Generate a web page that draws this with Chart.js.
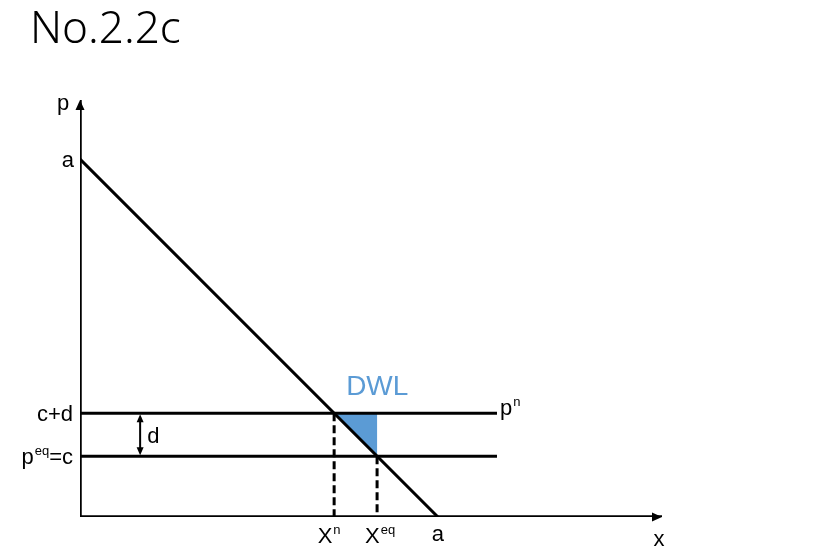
<!DOCTYPE html>
<html>
<head>
<meta charset="utf-8">
<title>No.2.2c</title>
<script src="https://cdn.jsdelivr.net/npm/chart.js"></script>
<style>
  html, body { margin: 0; padding: 0; background: #fff; }
  canvas { display: block; }
</style>
</head>
<body>
<canvas id="chart" width="817" height="555"></canvas>
<script>
// model values (abstract units, a = 100)
const A = 100;          // demand intercept on both axes
const C = 17;           // p_eq = c
const D = 12;           // markup d
const X_N = A - (C + D); // quantity at p^n
const X_EQ = A - C;      // equilibrium quantity
const X_MAX = 162.6;
const Y_MAX = 116.5;
const PRICE_LINE_END = 116.5;
const D_ARROW_X = 16.8;

const demandPts = [{ x: 0, y: A }, { x: A, y: 0 }];
const pnPts = [{ x: 0, y: C + D }, { x: PRICE_LINE_END, y: C + D }];
const peqPts = [{ x: 0, y: C }, { x: PRICE_LINE_END, y: C }];
const xnDash = [{ x: X_N, y: C + D }, { x: X_N, y: 0 }];
const xeqDash = [{ x: X_EQ, y: C }, { x: X_EQ, y: 0 }];
const dwlPts = [{ x: X_N, y: C + D }, { x: X_EQ, y: C + D }, { x: X_EQ, y: C }, { x: X_N, y: C + D }];
const axisX = [{ x: 0, y: 0 }, { x: X_MAX, y: 0 }];
const axisY = [{ x: 0, y: 0 }, { x: 0, y: Y_MAX }];

const LABEL_FONT = '22px "Liberation Sans", Arial, sans-serif';
const SUP_FONT = '13px "Liberation Sans", Arial, sans-serif';

function line(data, extra) {
  return Object.assign({
    data: data,
    showLine: true,
    borderColor: '#000',
    borderWidth: 3,
    pointRadius: 0,
    fill: false,
    tension: 0
  }, extra || {});
}

// text with optional superscript piece
function drawSup(ctx, parts, x, y, align) {
  let total = 0;
  parts.forEach(p => {
    ctx.font = p.sup ? SUP_FONT : LABEL_FONT;
    p.w = ctx.measureText(p.t).width + (p.sup ? 1 : 0);
    total += p.w;
  });
  let sx = x;
  if (align === 'right') sx = x - total;
  if (align === 'center') sx = x - total / 2;
  ctx.textAlign = 'left';
  parts.forEach(p => {
    ctx.font = p.sup ? SUP_FONT : LABEL_FONT;
    ctx.fillText(p.t, sx + (p.sup ? 1 : 0), p.sup ? y - 9 : y);
    sx += p.w;
  });
}

const decor = {
  id: 'decor',
  afterDatasetsDraw(chart) {
    const ctx = chart.ctx;
    const xs = chart.scales.x, ys = chart.scales.y;
    const px = v => xs.getPixelForValue(v);
    const py = v => ys.getPixelForValue(v);
    ctx.save();
    ctx.fillStyle = '#000';

    // axis arrowheads
    ctx.beginPath();
    ctx.moveTo(px(0), py(Y_MAX));
    ctx.lineTo(px(0) - 4.5, py(Y_MAX) + 10);
    ctx.lineTo(px(0) + 4.5, py(Y_MAX) + 10);
    ctx.closePath();
    ctx.fill();
    ctx.beginPath();
    ctx.moveTo(px(X_MAX), py(0));
    ctx.lineTo(px(X_MAX) - 10, py(0) - 4.5);
    ctx.lineTo(px(X_MAX) - 10, py(0) + 4.5);
    ctx.closePath();
    ctx.fill();

    // d double arrow
    const ax = px(D_ARROW_X), top = py(C + D), bot = py(C);
    ctx.strokeStyle = '#000';
    ctx.lineWidth = 2;
    ctx.beginPath();
    ctx.moveTo(ax, top + 4);
    ctx.lineTo(ax, bot - 4);
    ctx.stroke();
    ctx.beginPath();
    ctx.moveTo(ax, top + 1);
    ctx.lineTo(ax - 3.5, top + 9);
    ctx.lineTo(ax + 3.5, top + 9);
    ctx.closePath();
    ctx.fill();
    ctx.beginPath();
    ctx.moveTo(ax, bot - 1);
    ctx.lineTo(ax - 3.5, bot - 9);
    ctx.lineTo(ax + 3.5, bot - 9);
    ctx.closePath();
    ctx.fill();

    // labels
    ctx.textBaseline = 'alphabetic';
    ctx.font = LABEL_FONT;
    ctx.textAlign = 'left';
    ctx.fillText('p', px(0) - 23, py(Y_MAX) + 10);
    ctx.textAlign = 'right';
    ctx.fillText('a', px(0) - 6, py(A) + 8);
    ctx.fillText('c+d', px(0) - 7, py(C + D) + 8);
    drawSup(ctx, [{ t: 'p' }, { t: 'eq', sup: true }, { t: '=c' }], px(0) - 7, py(C) + 8, 'right');
    ctx.textAlign = 'left';
    ctx.fillText('d', ax + 7, py(C + D / 2) + 8);
    drawSup(ctx, [{ t: 'p' }, { t: 'n', sup: true }], px(PRICE_LINE_END) + 3, py(C + D) + 2, 'left');

    drawSup(ctx, [{ t: 'X' }, { t: 'n', sup: true }], px(X_N) - 5, py(0) + 26, 'center');
    drawSup(ctx, [{ t: 'X' }, { t: 'eq', sup: true }], px(X_EQ) + 3, py(0) + 26, 'center');
    ctx.font = LABEL_FONT;
    ctx.textAlign = 'center';
    ctx.fillText('a', px(A), py(0) + 24);
    ctx.fillText('x', px(X_MAX) - 3, py(0) + 29);

    ctx.fillStyle = '#5B9BD5';
    ctx.font = '28px "Liberation Sans", Arial, sans-serif';
    ctx.textAlign = 'left';
    ctx.fillText('DWL', px(X_N) + 12, py(C + D) - 18);

    // title
    ctx.fillStyle = '#000';
    ctx.font = '300 44px "Noto Sans", sans-serif';
    ctx.fillText('No.2.2c', 30, 43);
    ctx.restore();
  }
};

new Chart(document.getElementById('chart'), {
  type: 'scatter',
  data: {
    datasets: [
      line(dwlPts, { borderWidth: 0, borderColor: 'rgba(0,0,0,0)', backgroundColor: '#5B9BD5', fill: 'shape', order: 5 }),
      line(axisX, { borderWidth: 3.5, order: 1 }),
      line(axisY, { borderWidth: 3.5, order: 1 }),
      line(demandPts, { order: 2 }),
      line(pnPts, { order: 2 }),
      line(peqPts, { order: 2 }),
      line(xnDash, { borderDash: [8, 4], order: 3 }),
      line(xeqDash, { borderDash: [8, 4], order: 3 })
    ]
  },
  options: {
    responsive: false,
    animation: false,
    layout: { padding: { left: 80, right: 155, top: 100, bottom: 38 } },
    plugins: { legend: { display: false }, tooltip: { enabled: false }, title: { display: false } },
    scales: {
      x: { type: 'linear', min: 0, max: X_MAX, display: false },
      y: { type: 'linear', min: 0, max: Y_MAX, display: false }
    }
  },
  plugins: [decor]
});
</script>
</body>
</html>
